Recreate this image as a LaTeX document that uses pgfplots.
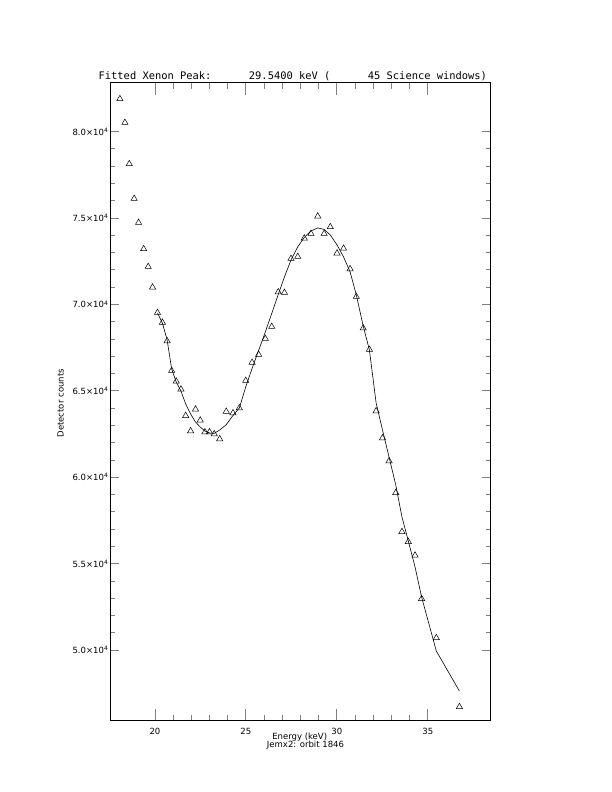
\documentclass[border=0pt]{standalone}
\usepackage{pgfplots}
\pgfplotsset{compat=1.18}
\usepackage{fontspec}
\setmainfont{DejaVu Sans}
\newfontfamily\monofont{DejaVu Sans Mono}

\pgfplotstableread{
x      y
18.075 81892
18.35  80520
18.59  78130
18.86  76121
19.10  74732
19.38  73210
19.63  72185
19.87  70993
20.14  69523
20.41  68956
20.67  67885
20.92  66166
21.17  65552
21.43  65089
21.69  63561
21.96  62676
22.23  63932
22.49  63295
22.75  62618
23.00  62618
23.26  62502
23.56  62213
23.92  63804
24.29  63718
24.64  64007
24.99  65587
25.34  66640
25.70  67104
26.07  68018
26.42  68713
26.78  70721
27.12  70681
27.48  72649
27.85  72764
28.21  73829
28.58  74095
28.95  75102
29.30  74095
29.64  74483
30.01  72961
30.37  73239
30.73  72052
31.07  70449
31.45  68626
31.79  67393
32.16  63833
32.51  62271
32.87  60939
33.24  59099
33.58  56847
33.93  56268
34.30  55481
34.66  52969
35.47  50706
36.74  46718
}\counts

\pgfplotstableread{
x      y
20.14  69506
20.41  68927
20.67  67943
20.92  66264
21.17  65512
21.43  64991
21.69  64238
21.96  63660
22.23  63197
22.49  62907
22.75  62676
23.00  62560
23.26  62541
23.56  62734
23.92  63040
24.29  63573
24.64  64007
24.99  65222
25.34  66293
25.70  67335
26.07  68406
26.42  69477
26.78  70576
27.12  71589
27.48  72573
27.85  73326
28.21  73876
28.58  74252
28.95  74426
29.30  74339
29.64  74021
30.01  73442
30.37  72747
30.73  71879
31.07  70547
31.45  68753
31.79  67364
32.16  64296
32.51  62734
32.87  61171
33.24  59550
33.58  57698
33.93  56309
34.30  54804
34.66  53068
35.47  49942
36.74  47627
}\fit

\begin{document}
\begin{tikzpicture}[x=1pt,y=1pt]
\path[use as bounding box] (0,0) rectangle (612,792);
\begin{axis}[
  at={(110pt,71.3pt)}, anchor=south west,
  scale only axis, width=380pt, height=638pt,
  xmin=17.53, xmax=38.42, ymin=45913, ymax=82830,
  xtick={20,25,30,35}, xticklabels={20,25,30,35},
  ytick={50000,55000,60000,65000,70000,75000,80000},
  yticklabels={5.0×10\textsuperscript{4},5.5×10\textsuperscript{4},6.0×10\textsuperscript{4},6.5×10\textsuperscript{4},7.0×10\textsuperscript{4},7.5×10\textsuperscript{4},8.0×10\textsuperscript{4}},
  scaled y ticks=false,
  minor x tick num=4, minor y tick num=4,
  tick align=inside, tick pos=both,
  major tick length=12pt, minor tick length=6pt,
  axis line style={line width=0.8pt},
  xtick style={line width=0.8pt},
  ytick style={line width=0.8pt, /pgfplots/major tick length=8.5pt, /pgfplots/minor tick length=4.5pt},
  tick label style={font=\fontsize{8.5}{10}\selectfont},
  yticklabel style={inner xsep=1.5pt},
  xticklabel style={yshift=-3.5pt},
]
\addplot[only marks, mark=triangle, mark size=3.6pt, mark options={line width=0.5pt}, black] table {\counts};
\addplot[black, line width=0.6pt, mark=none] table {\fit};
\end{axis}
\node[anchor=base west, inner sep=0pt, font=\monofont\fontsize{10.4}{12}\selectfont] at (98.5,712.7)
  {Fitted Xenon Peak:\phantom{000000}29.5400 keV (\phantom{000000}45 Science windows)};
\node[rotate=90, font=\fontsize{8.5}{10}\selectfont] at (60.5,388.7) {Detector counts};
\node[anchor=base, inner sep=0pt, font=\fontsize{8.5}{10}\selectfont] at (299.7,52) {Energy (keV)};
\node[anchor=base, inner sep=0pt, font=\fontsize{8.5}{10}\selectfont] at (305.5,44.3) {Jemx2: orbit 1846};
\end{tikzpicture}
\end{document}
